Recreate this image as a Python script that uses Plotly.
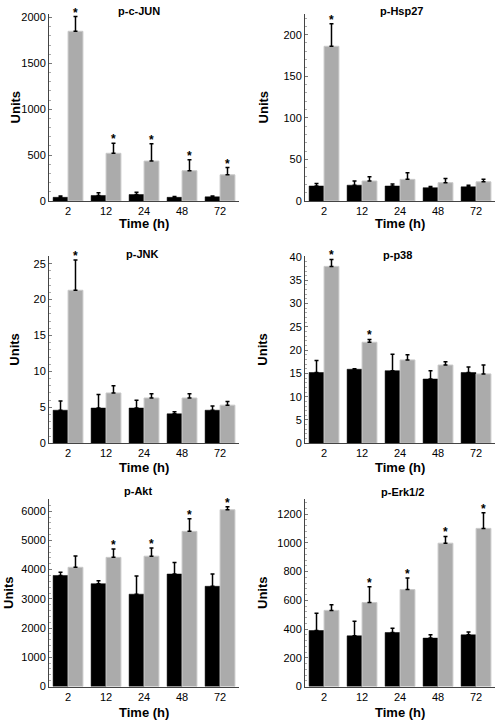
import plotly.graph_objects as go

times = ["2", "12", "24", "48", "72"]

titles = ["p-c-JUN", "p-Hsp27", "p-JNK", "p-p38", "p-Akt", "p-Erk1/2"]

# control (black) means and upper error; treated (gray) means and upper error
jun_ctrl = [40, 60, 70, 40, 45]
jun_ctrl_err = [15, 30, 25, 10, 10]
jun_trt = [1850, 520, 435, 330, 285]
jun_trt_err = [160, 110, 190, 120, 80]
jun_sig = [1, 1, 1, 1, 1]

hsp_ctrl = [18, 19, 18, 16, 17]
hsp_ctrl_err = [3, 5, 2.5, 1.5, 2]
hsp_trt = [186, 24, 26, 22, 23]
hsp_trt_err = [27, 5, 8, 5, 3]
hsp_sig = [1, 0, 0, 0, 0]

jnk_ctrl = [4.6, 4.9, 4.9, 4.1, 4.6]
jnk_ctrl_err = [1.3, 1.9, 1.1, 0.3, 0.6]
jnk_trt = [21.3, 7.0, 6.3, 6.3, 5.3]
jnk_trt_err = [4.2, 1.0, 0.6, 0.6, 0.5]
jnk_sig = [1, 0, 0, 0, 0]

p38_ctrl = [15.2, 15.9, 15.6, 13.8, 15.2]
p38_ctrl_err = [2.6, 0.1, 3.5, 1.8, 1.2]
p38_trt = [38.0, 21.7, 17.9, 16.8, 14.9]
p38_trt_err = [1.5, 0.6, 1.1, 0.7, 1.9]
p38_sig = [1, 1, 0, 0, 0]

akt_ctrl = [3800, 3520, 3160, 3850, 3430]
akt_ctrl_err = [110, 100, 620, 390, 420]
akt_trt = [4080, 4420, 4460, 5310, 6050]
akt_trt_err = [390, 290, 280, 430, 100]
akt_sig = [0, 1, 1, 1, 1]

erk_ctrl = [390, 353, 376, 337, 360]
erk_ctrl_err = [120, 102, 29, 23, 20]
erk_trt = [530, 585, 675, 998, 1101]
erk_trt_err = [40, 110, 80, 47, 109]
erk_sig = [0, 1, 1, 1, 1]

panels = [
    (jun_ctrl, jun_ctrl_err, jun_trt, jun_trt_err, jun_sig),
    (hsp_ctrl, hsp_ctrl_err, hsp_trt, hsp_trt_err, hsp_sig),
    (jnk_ctrl, jnk_ctrl_err, jnk_trt, jnk_trt_err, jnk_sig),
    (p38_ctrl, p38_ctrl_err, p38_trt, p38_trt_err, p38_sig),
    (akt_ctrl, akt_ctrl_err, akt_trt, akt_trt_err, akt_sig),
    (erk_ctrl, erk_ctrl_err, erk_trt, erk_trt_err, erk_sig),
]

W, H = 496, 726
FONT = "Liberation Sans, Arial, sans-serif"

# layout settings (pixels)
xdoms_px = [(49, 239), (305, 495)]
ydoms_px = [(9, 199), (255, 445), (502, 692)]
time_off_px = [23, 25, 26]
yranges = [2040, 225, 26.05, 40.2, 6404, 1303]
ydticks = [500, 50, 5, 5, 1000, 200]
title_y_px = [6, 6, 253, 254, 493, 494]
title_x_px = [139, 401, 142, 397, 138, 402]
units_x_px = [15, 263, 15, 263, 9, 263]

fig = go.Figure()

xpos = list(range(len(times)))
off = 0.197
bw = 0.39

for k, (c, ce, t, te, sig) in enumerate(panels):
    row, col = divmod(k, 2)
    ax = "" if k == 0 else str(k + 1)
    xa, ya = "x" + ax, "y" + ax
    fig.add_trace(go.Bar(
        x=[p - off for p in xpos], y=c, width=bw,
        marker=dict(color="#000000", line=dict(color="#000000", width=0.5)),
        error_y=dict(type="data", array=ce, arrayminus=[0] * len(ce), symmetric=False,
                     color="#000000", thickness=1.5, width=2),
        xaxis=xa, yaxis=ya, showlegend=False))
    fig.add_trace(go.Bar(
        x=[p + off for p in xpos], y=t, width=bw,
        marker=dict(color="#ababab", line=dict(color="#c8c8c8", width=1)),
        error_y=dict(type="data", array=te, arrayminus=[0] * len(te), symmetric=False,
                     color="#000000", thickness=1.5, width=2),
        xaxis=xa, yaxis=ya, showlegend=False))
    for i, s in enumerate(sig):
        if s:
            fig.add_annotation(x=xpos[i] + off, y=t[i] + te[i], xref=xa, yref=ya,
                               text="<b>*</b>", showarrow=False, yanchor="bottom",
                               xanchor="center", yshift=-5,
                               font=dict(family=FONT, size=12, color="#000"))
    x0, x1 = xdoms_px[col]
    y0, y1 = ydoms_px[row]
    xd = [x0 / W, x1 / W]
    yd = [1 - y1 / H, 1 - y0 / H]
    fig.update_layout(**{
        ("xaxis" + ax): dict(domain=xd, anchor=ya, range=[-0.5, len(times) - 0.5],
                             tickmode="array", tickvals=xpos, ticktext=times,
                             showline=True, linecolor="#444", linewidth=1,
                             ticks="", showgrid=False, zeroline=False,
                             tickfont=dict(family=FONT, size=11, color="#000")),
        ("yaxis" + ax): dict(domain=yd, anchor=xa, range=[0, yranges[k]],
                             dtick=ydticks[k], showline=True, linecolor="#444",
                             linewidth=1, ticks="inside", ticklen=3, tickcolor="#777",
                             showgrid=False, zeroline=False,
                             minor=dict(ticks="inside", ticklen=2, tickcolor="#aaa",
                                        dtick=ydticks[k] / 5, showgrid=False),
                             tickfont=dict(family=FONT, size=11, color="#000")),
    })
    # panel title
    fig.add_annotation(x=title_x_px[k] / W, y=1 - title_y_px[k] / H, xref="paper", yref="paper",
                       text="<b>" + titles[k] + "</b>", showarrow=False,
                       xanchor="center", yanchor="middle",
                       font=dict(family=FONT, size=11, color="#000"))
    # axis labels
    fig.add_annotation(x=(x0 + x1) / 2 / W, y=1 - (y1 + time_off_px[row]) / H,
                       xref="paper", yref="paper",
                       text="<b>Time (h)</b>", showarrow=False,
                       xanchor="center", yanchor="middle",
                       font=dict(family=FONT, size=13, color="#000"))
    fig.add_annotation(x=units_x_px[k] / W, y=1 - (y0 + y1) / 2 / H, xref="paper", yref="paper",
                       text="<b>Units</b>", showarrow=False, textangle=-90,
                       xanchor="center", yanchor="middle",
                       font=dict(family=FONT, size=13, color="#000"))

fig.update_layout(width=W, height=H, margin=dict(l=0, r=0, t=0, b=0),
                  plot_bgcolor="white", paper_bgcolor="white", barmode="overlay")

fig.write_html("out.html", config={"displayModeBar": False},
               post_script="document.body.style.margin='0';document.body.style.overflow='hidden';")
